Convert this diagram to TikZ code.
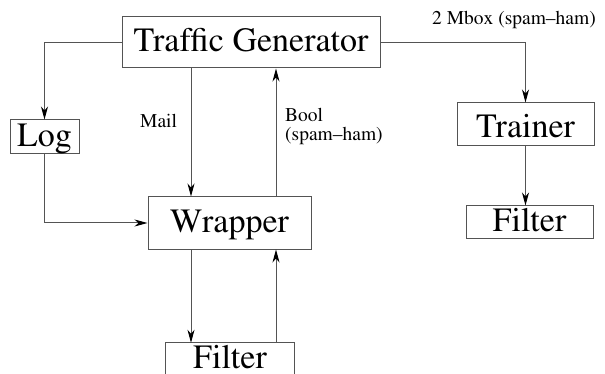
\documentclass[tikz,border=0pt]{standalone}
\usepackage[T1]{fontenc}
\usepackage{times}
\usetikzlibrary{arrows.meta}
\definecolor{linegray}{rgb}{0.33,0.33,0.33}
\tikzset{
  box/.style={draw=linegray, line width=1pt, inner sep=0pt,
    font=\fontsize{34}{40}\selectfont, text height=23.8pt, text depth=4.8pt},
  openbox/.style={inner sep=0pt, font=\fontsize{34}{40}\selectfont, text height=23.8pt, text depth=4.8pt},
  lbl/.style={inner sep=0pt, font=\fontsize{19.5}{22}\selectfont, anchor=base west},
  arr/.style={draw=linegray, line width=1pt,
    -{Stealth[length=13pt,width=7pt,inset=4pt,color=black]}},
  ln/.style={draw=linegray, line width=1pt}
}
\begin{document}
\begin{tikzpicture}[x=1pt,y=-1pt]
\useasboundingbox (0,0) rectangle (605,374);
\node[box, minimum width=258pt, minimum height=51pt] (tg) at (251,42.5) {Traffic Generator};
\node[box, minimum width=69pt, minimum height=34pt] (log) at (44.5,137) {Log};
\node[box, minimum width=137pt, minimum height=43pt, text height=27.2pt, text depth=2pt] (trainer) at (525.5,124.5) {Trainer};
\node[box, minimum width=127pt, minimum height=33pt] (filterr) at (529.5,222.5) {Filter};
\node[box, minimum width=163pt, minimum height=52pt] (wrapper) at (229.5,223) {Wrapper};
\node[openbox, minimum width=128pt, minimum height=31pt] (filterb) at (230,358.5) {Filter};
\draw[ln] (filterb.south west) -- (filterb.north west) -- (filterb.north east) -- (filterb.south east);
\coordinate (mailx) at (191,0);
\coordinate (boolx) at (276,0);
\node[lbl] (mail) at (140,128) {Mail};
\node[lbl] (bool) at (285,122) {Bool};
\node[lbl] (boolsh) at (285,141) {(spam--ham)};
\node[lbl] (mbox) at (432,25) {2 Mbox (spam--ham)};
\draw[arr] (tg.west) -| (log.north);
\draw[arr] (tg.east) -| (trainer.north);
\draw[arr] (trainer.south) -- (trainer.south |- filterr.north);
\draw[arr] (tg.south -| mailx) -- (wrapper.north -| mailx);
\draw[arr] (wrapper.north -| boolx) -- (tg.south -| boolx);
\draw[arr] (log.south) |- (wrapper.west);
\draw[arr] (wrapper.south -| mailx) -- (filterb.north -| mailx);
\draw[arr] (filterb.north -| boolx) -- (wrapper.south -| boolx);
\end{tikzpicture}
\end{document}
